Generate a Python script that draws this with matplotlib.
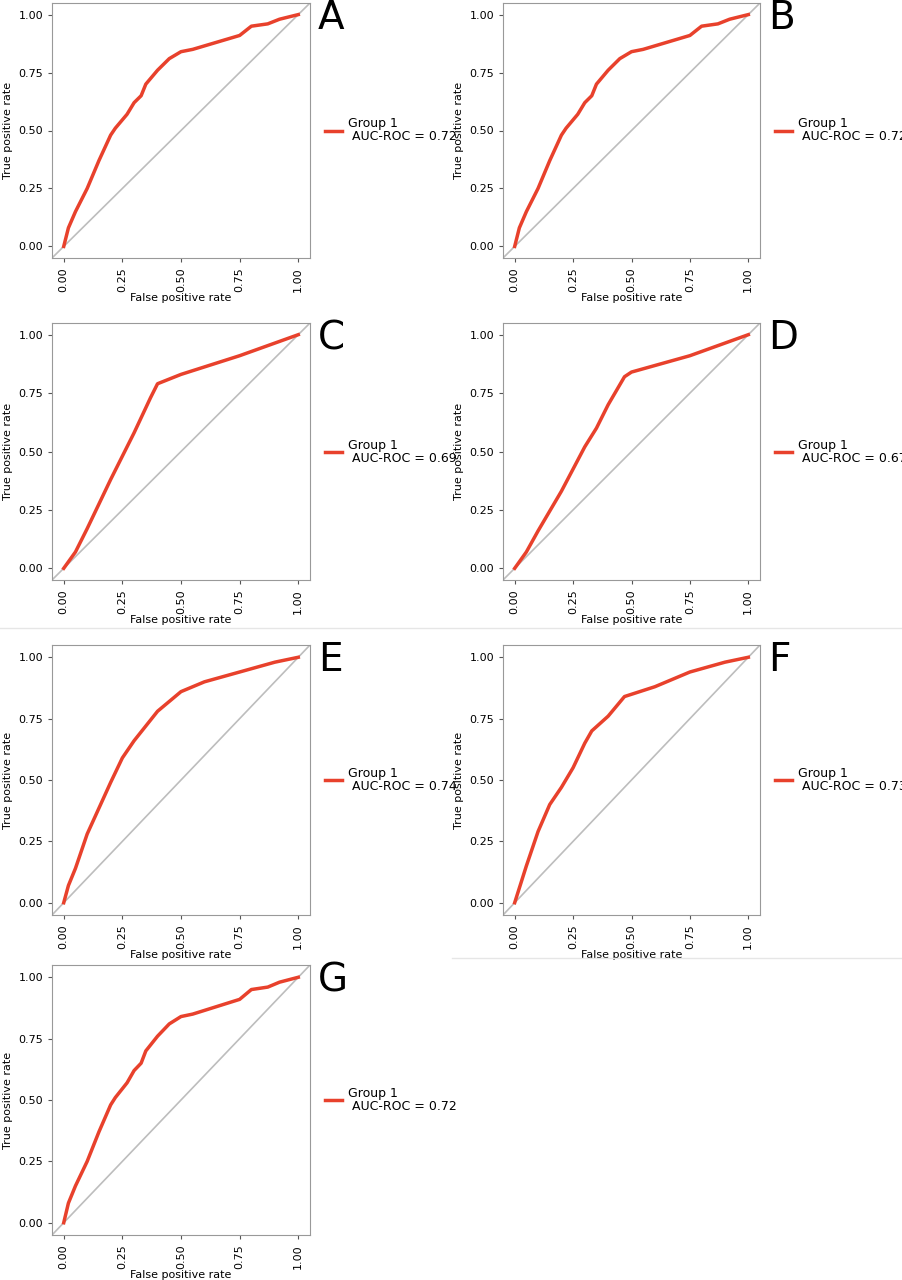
import matplotlib
matplotlib.use("Agg")
import matplotlib.pyplot as plt
from matplotlib.lines import Line2D

W, H = 902, 1280

# ROC curves (fpr, tpr)
fpr_a = [0, 0.02, 0.05, 0.10, 0.15, 0.20, 0.22, 0.27, 0.30, 0.33, 0.35, 0.40, 0.45, 0.50, 0.55, 0.65, 0.75, 0.80, 0.87, 0.92, 1.0]
tpr_a = [0, 0.08, 0.15, 0.25, 0.37, 0.48, 0.51, 0.57, 0.62, 0.65, 0.70, 0.76, 0.81, 0.84, 0.85, 0.88, 0.91, 0.95, 0.96, 0.98, 1.0]
fpr_c = [0, 0.05, 0.10, 0.20, 0.30, 0.37, 0.40, 0.50, 0.75, 1.0]
tpr_c = [0, 0.07, 0.17, 0.38, 0.58, 0.73, 0.79, 0.83, 0.91, 1.0]
fpr_d = [0, 0.05, 0.10, 0.20, 0.30, 0.35, 0.40, 0.47, 0.50, 0.75, 1.0]
tpr_d = [0, 0.07, 0.16, 0.33, 0.52, 0.60, 0.70, 0.82, 0.84, 0.91, 1.0]
fpr_e = [0, 0.02, 0.05, 0.10, 0.20, 0.25, 0.30, 0.40, 0.50, 0.60, 0.75, 0.90, 1.0]
tpr_e = [0, 0.07, 0.14, 0.28, 0.49, 0.59, 0.66, 0.78, 0.86, 0.90, 0.94, 0.98, 1.0]
fpr_f = [0, 0.02, 0.05, 0.10, 0.15, 0.20, 0.25, 0.30, 0.33, 0.40, 0.47, 0.60, 0.75, 0.90, 1.0]
tpr_f = [0, 0.06, 0.15, 0.29, 0.40, 0.47, 0.55, 0.65, 0.70, 0.76, 0.84, 0.88, 0.94, 0.98, 1.0]

panels = ["A", "B", "C", "D", "E", "F", "G"]
aucs = [0.72, 0.72, 0.69, 0.67, 0.74, 0.73, 0.72]
curves = [(fpr_a, tpr_a), (fpr_a, tpr_a), (fpr_c, tpr_c), (fpr_d, tpr_d),
          (fpr_e, tpr_e), (fpr_f, tpr_f), (fpr_a, tpr_a)]

# axes boxes in pixels: left, top, right, bottom
boxes = [(52, 3, 310, 258), (503, 3, 760, 258),
         (52, 323, 310, 580), (503, 323, 760, 580),
         (52, 645, 310, 915), (503, 645, 760, 915),
         (52, 965, 310, 1235)]

fig = plt.figure(figsize=(W / 100, H / 100), dpi=100)
fig.add_artist(Line2D([0, 1], [1 - 628 / H] * 2, color="#e6e6e6", lw=1))
fig.add_artist(Line2D([452 / W, 1], [1 - 958 / H] * 2, color="#e6e6e6", lw=1))

red = "#e8412c"
for label, auc, (x, y), (l, t, r, b) in zip(panels, aucs, curves, boxes):
    ax = fig.add_axes([l / W, 1 - b / H, (r - l) / W, (b - t) / H])
    ax.plot([-0.05, 1.05], [-0.05, 1.05], color="#bdbdbd", lw=1.2)
    ax.plot(x, y, color=red, lw=2.5)
    ax.set_xlim(-0.05, 1.05)
    ax.set_ylim(-0.05, 1.05)
    ticks = [0, 0.25, 0.5, 0.75, 1.0]
    ax.set_xticks(ticks, ["0.00", "0.25", "0.50", "0.75", "1.00"], rotation=90)
    ax.set_yticks(ticks, ["0.00", "0.25", "0.50", "0.75", "1.00"])
    ax.tick_params(labelsize=8, length=3, color="#555555")
    ax.set_xlabel("False positive rate", fontsize=8, labelpad=1)
    ax.set_ylabel("True positive rate", fontsize=8)
    for s in ax.spines.values():
        s.set_color("#999999")
    fig.text((r + 8) / W, 1 - (t + 15) / H, label, fontsize=28, va="center")
    ly = 1 - ((t + b) / 2) / H
    fig.add_artist(Line2D([(r + 15) / W, (r + 32) / W], [ly, ly], color=red, lw=2.5))
    fig.text((r + 38) / W, ly, "Group 1\n AUC-ROC = %.2f" % auc, fontsize=9,
             va="center", linespacing=1.0)

fig.savefig("out.png", dpi=100)
